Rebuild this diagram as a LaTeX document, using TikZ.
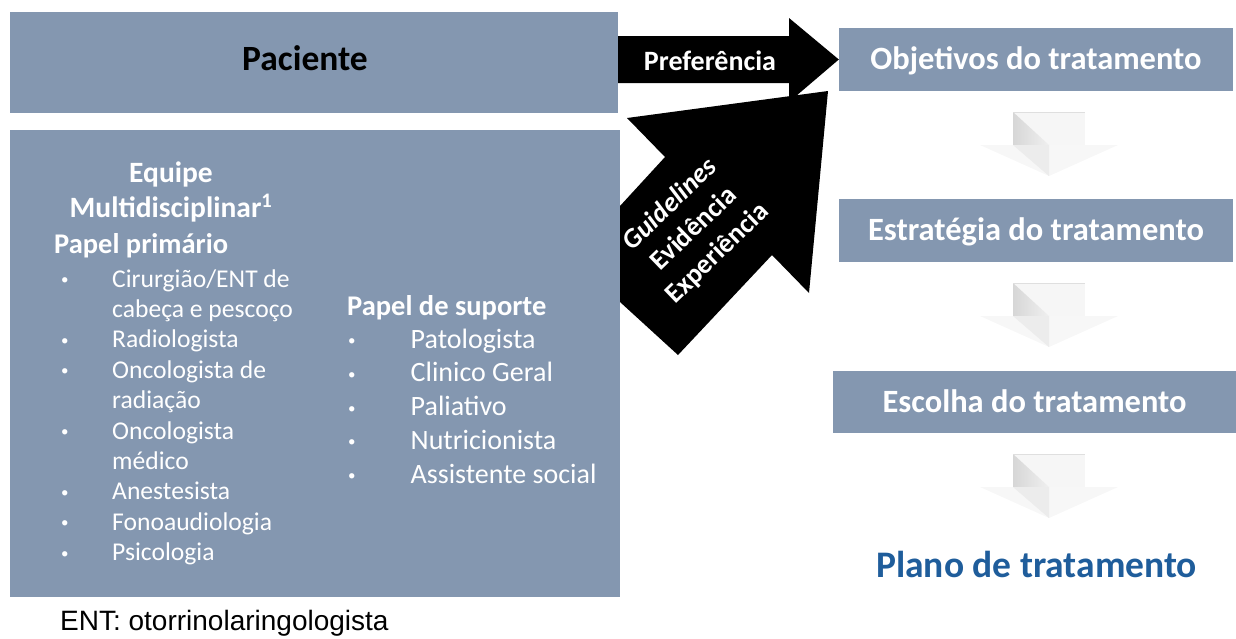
\documentclass[tikz,border=0pt]{standalone}
\usepackage{fontspec}
\setmainfont{Carlito}
\newfontfamily\arialfont{Liberation Sans}
\definecolor{boxblue}{HTML}{8497B0}
\definecolor{planblue}{HTML}{1F5D9B}
\newcommand{\smallbullet}{\raisebox{2.5pt}{\fontsize{15}{15}\selectfont\textbullet}}

\begin{document}
\begin{tikzpicture}[x=1pt,y=-1pt,
    box/.style={rectangle,fill=boxblue,inner sep=0pt,text=white,text height=20.5pt,text depth=0pt,font=\fontsize{32.5}{38}\selectfont\bfseries},
    listtext/.style={inner sep=0pt,text=white,anchor=base west},
    shaftgray/.style={fill=gray!7},
    sidegray/.style={left color=gray!32,right color=gray!12},
    headgray/.style={fill=gray!6},
    tipgray/.style={fill=gray!15}]
    \useasboundingbox (0,0) rectangle (1236,638);

    % left blocks
    \node[box,minimum width=608pt,minimum height=101pt] (pac) at (314,62.5) {};
    \node[inner sep=0pt,anchor=base,font=\fontsize{35.5}{40}\selectfont\bfseries] (pac_text) at (305,70) {Paciente};
    \node[box,minimum width=610pt,minimum height=467pt] (team) at (315,363.5) {};

    % right column
    \node[box,minimum width=394pt,minimum height=63pt] (obj) at (1036,59.5) {Objetivos do tratamento};
    \node[box,minimum width=394pt,minimum height=63pt] (estr) at (1036,230.5) {Estratégia do tratamento};
    \node[box,minimum width=403pt,minimum height=62pt] (esc) at (1034.5,402) {Escolha do tratamento};
    \node[inner sep=0pt,anchor=base,text=planblue,font=\fontsize{37.5}{42}\selectfont\bfseries] (plan) at (1036.5,577) {Plano de tratamento};

    % black arrows
    \fill[black] (pac.east |- 0,36) -- (789,36) -- (789,18) -- (obj.west) -- (789,102) -- (789,83) -- (pac.east |- 0,83) -- cycle;
    \node[inner sep=0pt,anchor=base,text=white,font=\fontsize{28}{31}\selectfont\bfseries] (pref) at (710,70) {Preferência};
    \fill[black] (620,206) -- (665,157) -- (627,118) -- (828,91) -- (809,293) -- (772,255) -- (678,355) -- (620,302) -- cycle;
    \node[rotate=44,inner sep=0pt,text=white,align=center,font=\fontsize{27.5}{34}\selectfont\bfseries] (evid) at (694,229) {\textit{Guidelines}\\Evidência\\Experiência};

    % grey down arrows
    \fill[shaftgray] (1013,112) rectangle (1085,145);
    \shade[sidegray] (1013,112) -- (1013,145) -- (1049,145) -- cycle;
    \fill[headgray] (980,145) -- (1118,145) -- (1049,176) -- cycle;
    \fill[tipgray] (1013,145) -- (1049,176) -- (1049,145) -- cycle;
    \draw[gray!25,line width=0.6pt] (1013,112) -- (1085,112);

    \fill[shaftgray] (1013,283) rectangle (1085,316);
    \shade[sidegray] (1013,283) -- (1013,316) -- (1049,316) -- cycle;
    \fill[headgray] (980,316) -- (1118,316) -- (1049,347) -- cycle;
    \fill[tipgray] (1013,316) -- (1049,347) -- (1049,316) -- cycle;
    \draw[gray!25,line width=0.6pt] (1013,283) -- (1085,283);

    \fill[shaftgray] (1013,454) rectangle (1085,487);
    \shade[sidegray] (1013,454) -- (1013,487) -- (1049,487) -- cycle;
    \fill[headgray] (980,487) -- (1118,487) -- (1049,518) -- cycle;
    \fill[tipgray] (1013,487) -- (1049,518) -- (1049,487) -- cycle;
    \draw[gray!25,line width=0.6pt] (1013,454) -- (1085,454);

    % team text
    \node[inner sep=0pt,anchor=base,text=white,font=\fontsize{29.5}{35}\selectfont\bfseries] (team_title) at (171,182)
        {\begin{tabular}[t]{@{}c@{}}Equipe\\Multidisciplinar\textsuperscript{1}\end{tabular}};
    \node[listtext,font=\fontsize{28.5}{33}\selectfont\bfseries] (prim_head) at (54,253) {Papel primário};
    \node[listtext,font=\fontsize{25.6}{30.4}\selectfont] (prim_list) at (61,287)
        {\begin{tabular}[t]{@{}p{51pt}@{}l@{}}
        \smallbullet & Cirurgião/ENT de\\
                     & cabeça e pescoço\\
        \smallbullet & Radiologista\\
        \smallbullet & Oncologista de\\
                     & radiação\\
        \smallbullet & Oncologista\\
                     & médico\\
        \smallbullet & Anestesista\\
        \smallbullet & Fonoaudiologia\\
        \smallbullet & Psicologia
        \end{tabular}};
    \node[listtext,font=\fontsize{28.5}{33}\selectfont\bfseries] (sup_head) at (347,315) {Papel de suporte};
    \node[listtext,font=\fontsize{28}{33.75}\selectfont] (sup_list) at (348,348)
        {\begin{tabular}[t]{@{}p{62.5pt}@{}l@{}}
        \smallbullet & Patologista\\
        \smallbullet & Clinico Geral\\
        \smallbullet & Paliativo\\
        \smallbullet & Nutricionista\\
        \smallbullet & Assistente social
        \end{tabular}};

    \node[inner sep=0pt,anchor=base west,font=\arialfont\fontsize{28}{30}\selectfont] (ent_note) at (60,630) {ENT: otorrinolaringologista};
\end{tikzpicture}
\end{document}
